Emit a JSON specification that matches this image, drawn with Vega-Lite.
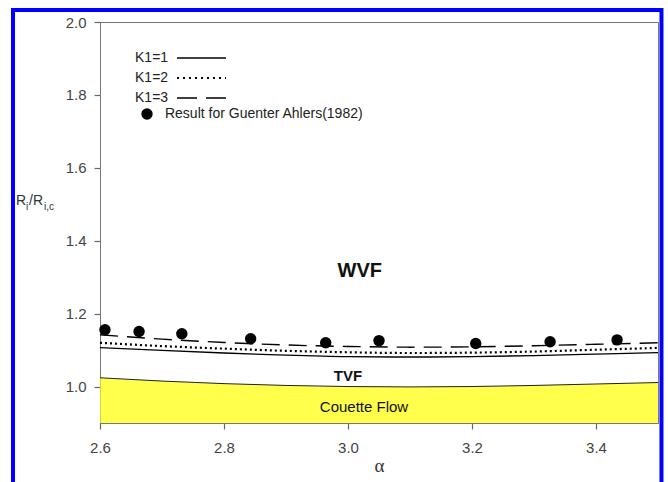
{
  "$schema": "https://vega.github.io/schema/vega-lite/v6.json",
  "width": 558,
  "height": 401,
  "autosize": {"type": "none"},
  "padding": {"left": 100, "top": 22, "right": 10, "bottom": 59},
  "background": "white",
  "config": {
    "font": "Liberation Sans",
    "view": {"stroke": "#777", "strokeWidth": 1},
    "axis": {"grid": false, "labelColor": "#444", "labelFontSize": 15, "labelFlush": false, "labelOverlap": false, "domainColor": "#777", "tickColor": "#666", "tickSize": 6, "tickWidth": 1.2, "labelFont": "Liberation Sans"}
  },
  "datasets": {
    "curves": [
      {"a": 2.6, "r": 1.107, "s": "K1=1"}, {"a": 2.7, "r": 1.099, "s": "K1=1"}, {"a": 2.8, "r": 1.092, "s": "K1=1"}, {"a": 2.9, "r": 1.086, "s": "K1=1"}, {"a": 3.0, "r": 1.082, "s": "K1=1"}, {"a": 3.1, "r": 1.081, "s": "K1=1"}, {"a": 3.2, "r": 1.082, "s": "K1=1"}, {"a": 3.3, "r": 1.085, "s": "K1=1"}, {"a": 3.4, "r": 1.089, "s": "K1=1"}, {"a": 3.5, "r": 1.093, "s": "K1=1"},
      {"a": 2.6, "r": 1.12, "s": "K1=2"}, {"a": 2.7, "r": 1.111, "s": "K1=2"}, {"a": 2.8, "r": 1.104, "s": "K1=2"}, {"a": 2.9, "r": 1.098, "s": "K1=2"}, {"a": 3.0, "r": 1.094, "s": "K1=2"}, {"a": 3.1, "r": 1.092, "s": "K1=2"}, {"a": 3.2, "r": 1.093, "s": "K1=2"}, {"a": 3.3, "r": 1.096, "s": "K1=2"}, {"a": 3.4, "r": 1.101, "s": "K1=2"}, {"a": 3.5, "r": 1.106, "s": "K1=2"},
      {"a": 2.6, "r": 1.142, "s": "K1=3"}, {"a": 2.7, "r": 1.13, "s": "K1=3"}, {"a": 2.8, "r": 1.121, "s": "K1=3"}, {"a": 2.9, "r": 1.114, "s": "K1=3"}, {"a": 3.0, "r": 1.11, "s": "K1=3"}, {"a": 3.1, "r": 1.108, "s": "K1=3"}, {"a": 3.2, "r": 1.109, "s": "K1=3"}, {"a": 3.3, "r": 1.112, "s": "K1=3"}, {"a": 3.4, "r": 1.116, "s": "K1=3"}, {"a": 3.5, "r": 1.12, "s": "K1=3"}
    ],
    "couette": [
      {"a": 2.6, "r": 1.024}, {"a": 2.7, "r": 1.015}, {"a": 2.8, "r": 1.008}, {"a": 2.9, "r": 1.003}, {"a": 3.0, "r": 1.0}, {"a": 3.1, "r": 0.999}, {"a": 3.2, "r": 1.0}, {"a": 3.3, "r": 1.003}, {"a": 3.4, "r": 1.007}, {"a": 3.5, "r": 1.011}
    ],
    "ahlers": [
      {"a": 2.608, "r": 1.156}, {"a": 2.663, "r": 1.151}, {"a": 2.732, "r": 1.145}, {"a": 2.843, "r": 1.131}, {"a": 2.964, "r": 1.12}, {"a": 3.05, "r": 1.126}, {"a": 3.206, "r": 1.118}, {"a": 3.326, "r": 1.123}, {"a": 3.434, "r": 1.128}
    ],
    "legendLines": [
      {"a": 2.7242, "r": 1.9012, "s": "K1=1"}, {"a": 2.8032, "r": 1.9012, "s": "K1=1"},
      {"a": 2.7242, "r": 1.8464, "s": "K1=2"}, {"a": 2.8032, "r": 1.8464, "s": "K1=2"},
      {"a": 2.7242, "r": 1.7915, "s": "K1=3"}, {"a": 2.8032, "r": 1.7915, "s": "K1=3"}
    ],
    "legendText": [
      {"a": 2.6565, "r": 1.9012, "t": "K1=1"},
      {"a": 2.6565, "r": 1.8464, "t": "K1=2"},
      {"a": 2.6565, "r": 1.7915, "t": "K1=3"},
      {"a": 2.7048, "r": 1.7476, "t": "Result for Guenter Ahlers(1982)"}
    ],
    "legendDot": [{"a": 2.6758, "r": 1.7476}],
    "boldLabels": [
      {"a": 3.019, "r": 1.3182, "t": "WVF", "z": 20},
      {"a": 3.0, "r": 1.0302, "t": "TVF", "z": 15}
    ],
    "plainLabels": [
      {"a": 3.0258, "r": 0.9438, "t": "Couette Flow"}
    ],
    "ytitleBig": [
      {"a": 2.4645, "r": 1.498, "t": "R"},
      {"a": 2.4855, "r": 1.498, "t": "/R"}
    ],
    "ytitleSub": [
      {"a": 2.4806, "r": 1.4842, "t": "i"},
      {"a": 2.5097, "r": 1.4842, "t": "i,c"}
    ],
    "frame": [{"a1": 2.4597, "a2": 3.5056, "r1": 2.0329, "r2": 0.716}]
  },
  "layer": [
    {
      "data": {"name": "couette"},
      "mark": {"type": "area", "color": "#ffff00", "interpolate": "monotone", "line": {"color": "#222", "strokeWidth": 1}},
      "encoding": {
        "x": {"field": "a", "type": "quantitative", "scale": {"domain": [2.6, 3.5], "nice": false, "zero": false}, "axis": {"values": [2.6, 2.8, 3.0, 3.2, 3.4], "format": ".1f", "labelPadding": 11, "title": "α", "titleFont": "Liberation Serif", "titleFontSize": 19, "titleFontWeight": "normal", "titleColor": "#333", "titlePadding": 1}},
        "y": {"field": "r", "type": "quantitative", "scale": {"domain": [0.9, 2.0], "nice": false, "zero": false}, "axis": {"values": [1.0, 1.2, 1.4, 1.6, 1.8, 2.0], "format": ".1f", "labelPadding": 8, "title": null}},
        "y2": {"datum": 0.9}
      }
    },
    {
      "data": {"name": "curves"},
      "transform": [{"filter": "datum.s === 'K1=1'"}],
      "mark": {"type": "line", "color": "black", "strokeWidth": 1.3, "interpolate": "monotone"},
      "encoding": {"x": {"field": "a", "type": "quantitative"}, "y": {"field": "r", "type": "quantitative"}}
    },
    {
      "data": {"name": "curves"},
      "transform": [{"filter": "datum.s === 'K1=2'"}],
      "mark": {"type": "line", "color": "black", "strokeWidth": 2.2, "strokeDash": [2, 3], "interpolate": "monotone"},
      "encoding": {"x": {"field": "a", "type": "quantitative"}, "y": {"field": "r", "type": "quantitative"}}
    },
    {
      "data": {"name": "curves"},
      "transform": [{"filter": "datum.s === 'K1=3'"}],
      "mark": {"type": "line", "color": "black", "strokeWidth": 1.4, "strokeDash": [18, 9], "interpolate": "monotone"},
      "encoding": {"x": {"field": "a", "type": "quantitative"}, "y": {"field": "r", "type": "quantitative"}}
    },
    {
      "data": {"name": "ahlers"},
      "mark": {"type": "point", "shape": "circle", "filled": true, "color": "black", "opacity": 1, "size": 130},
      "encoding": {"x": {"field": "a", "type": "quantitative"}, "y": {"field": "r", "type": "quantitative"}}
    },
    {
      "data": {"name": "legendLines"},
      "transform": [{"filter": "datum.s === 'K1=1'"}],
      "mark": {"type": "line", "color": "black", "strokeWidth": 1.3},
      "encoding": {"x": {"field": "a", "type": "quantitative"}, "y": {"field": "r", "type": "quantitative"}}
    },
    {
      "data": {"name": "legendLines"},
      "transform": [{"filter": "datum.s === 'K1=2'"}],
      "mark": {"type": "line", "color": "black", "strokeWidth": 2.2, "strokeDash": [2, 4]},
      "encoding": {"x": {"field": "a", "type": "quantitative"}, "y": {"field": "r", "type": "quantitative"}}
    },
    {
      "data": {"name": "legendLines"},
      "transform": [{"filter": "datum.s === 'K1=3'"}],
      "mark": {"type": "line", "color": "black", "strokeWidth": 1.4, "strokeDash": [20, 9]},
      "encoding": {"x": {"field": "a", "type": "quantitative"}, "y": {"field": "r", "type": "quantitative"}}
    },
    {
      "data": {"name": "legendDot"},
      "mark": {"type": "point", "shape": "circle", "filled": true, "color": "black", "opacity": 1, "size": 130},
      "encoding": {"x": {"field": "a", "type": "quantitative"}, "y": {"field": "r", "type": "quantitative"}}
    },
    {
      "data": {"name": "legendText"},
      "mark": {"type": "text", "align": "left", "baseline": "middle", "fontSize": 14, "color": "#222"},
      "encoding": {"x": {"field": "a", "type": "quantitative"}, "y": {"field": "r", "type": "quantitative"}, "text": {"field": "t"}}
    },
    {
      "data": {"name": "boldLabels"},
      "mark": {"type": "text", "align": "center", "baseline": "middle", "color": "#111", "fontWeight": "bold"},
      "encoding": {"x": {"field": "a", "type": "quantitative"}, "y": {"field": "r", "type": "quantitative"}, "text": {"field": "t"}, "size": {"field": "z", "type": "quantitative", "scale": null}}
    },
    {
      "data": {"name": "plainLabels"},
      "mark": {"type": "text", "align": "center", "baseline": "middle", "color": "#111", "fontSize": 15},
      "encoding": {"x": {"field": "a", "type": "quantitative"}, "y": {"field": "r", "type": "quantitative"}, "text": {"field": "t"}}
    },
    {
      "data": {"name": "ytitleBig"},
      "mark": {"type": "text", "align": "left", "baseline": "alphabetic", "fontSize": 14, "color": "#333"},
      "encoding": {"x": {"field": "a", "type": "quantitative"}, "y": {"field": "r", "type": "quantitative"}, "text": {"field": "t"}}
    },
    {
      "data": {"name": "ytitleSub"},
      "mark": {"type": "text", "align": "left", "baseline": "alphabetic", "fontSize": 10, "color": "#333"},
      "encoding": {"x": {"field": "a", "type": "quantitative"}, "y": {"field": "r", "type": "quantitative"}, "text": {"field": "t"}}
    },
    {
      "data": {"name": "frame"},
      "mark": {"type": "rect", "fill": null, "filled": false, "stroke": "#0000ff", "strokeWidth": 4, "clip": false},
      "encoding": {"x": {"field": "a1", "type": "quantitative"}, "x2": {"field": "a2"}, "y": {"field": "r1", "type": "quantitative"}, "y2": {"field": "r2"}}
    }
  ]
}
